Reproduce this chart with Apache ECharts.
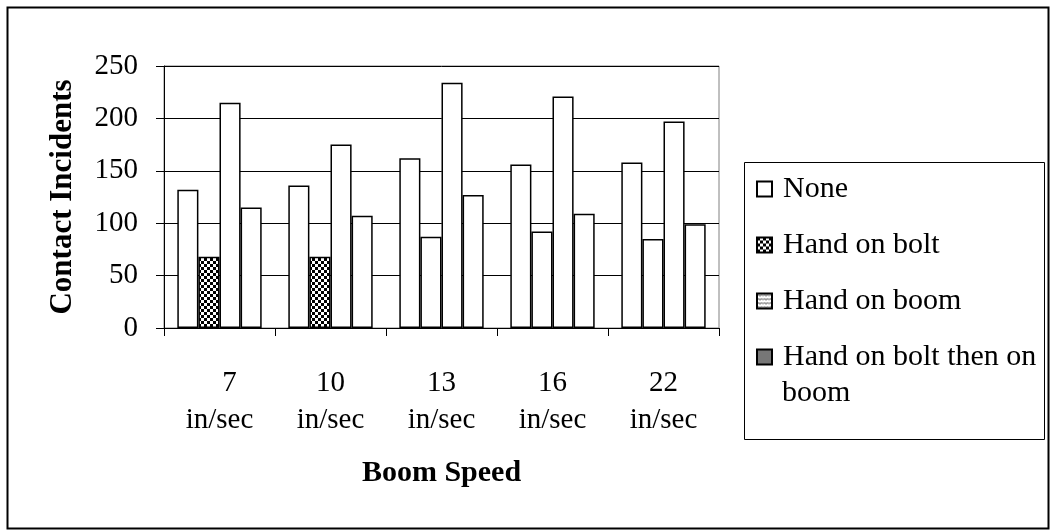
<!DOCTYPE html>
<html>
<head>
<meta charset="utf-8">
<script src="https://cdn.jsdelivr.net/npm/echarts@6/dist/echarts.min.js"></script>
<style>
html,body{margin:0;padding:0;background:#fff;}
#chart{width:1051px;height:531px;}
</style>
</head>
<body>
<div id="chart"></div>
<script>
// ---- data ----
const categories = ['7 in/sec', '10 in/sec', '13 in/sec', '16 in/sec', '22 in/sec'];
const seriesNames = ['None', 'Hand on bolt', 'Hand on boom', 'Hand on bolt then on boom'];
const noneValues = [132, 136, 162, 156, 158];
const boltValues = [68, 68, 87, 92, 85];
const boomValues = [215, 175, 234, 221, 197];
const boltBoomValues = [115, 107, 127, 109, 99];
const yTicks = [0, 50, 100, 150, 200, 250];
// which bars of "Hand on bolt" show the hatched fill
const boltHatched = [true, true, false, false, false];

// ---- patterns ----
function makeCanvas(w, h, draw) {
  const c = document.createElement('canvas');
  c.width = w; c.height = h;
  const ctx = c.getContext('2d');
  draw(ctx, w, h);
  return c;
}
const checker = makeCanvas(6, 6, (ctx) => {
  ctx.fillStyle = '#fff'; ctx.fillRect(0, 0, 6, 6);
  ctx.fillStyle = '#000'; ctx.fillRect(0, 0, 3, 3); ctx.fillRect(3, 3, 3, 3);
});
const wave = makeCanvas(6, 4, (ctx) => {
  ctx.fillStyle = '#fff'; ctx.fillRect(0, 0, 6, 4);
  ctx.strokeStyle = '#222'; ctx.lineWidth = 1;
  ctx.beginPath(); ctx.moveTo(0, 2.5); ctx.lineTo(1.5, 1); ctx.lineTo(3, 2.5); ctx.lineTo(4.5, 1); ctx.lineTo(6, 2.5); ctx.stroke();
});
const dots = makeCanvas(2, 2, (ctx) => {
  ctx.fillStyle = '#999'; ctx.fillRect(0, 0, 2, 2);
  ctx.fillStyle = '#555'; ctx.fillRect(0, 0, 1, 1); ctx.fillRect(1, 1, 1, 1);
});
const pat = (c) => ({ image: c, repeat: 'repeat' });

const FONT = 'Liberation Serif';
const chart = echarts.init(document.getElementById('chart'), null, { renderer: 'canvas' });

function barSeries(name, values, fill, hatchedFlags) {
  return {
    name: name,
    type: 'bar',
    barGap: '0%',
    barCategoryGap: '24%',
    itemStyle: { color: pat(fill), borderColor: '#000', borderWidth: 1.5 },
    emphasis: { disabled: true },
    data: values.map((v, i) => ({
      value: v,
      itemStyle: { color: (hatchedFlags && hatchedFlags[i]) ? pat(fill) : '#fff' }
    }))
  };
}

const option = {
  animation: false,
  backgroundColor: '#fff',
  textStyle: { fontFamily: FONT, color: '#000' },
  grid: { left: 164, top: 66, width: 555, height: 262, show: true, borderColor: '#808080', borderWidth: 1, backgroundColor: '#fff' },
  xAxis: {
    type: 'category',
    data: categories,
    name: 'Boom Speed',
    nameLocation: 'middle',
    nameGap: 130,
    nameTextStyle: { fontFamily: FONT, fontWeight: 'bold', fontSize: 30, color: '#000', verticalAlign: 'top' },
    axisLine: { lineStyle: { color: '#000', width: 1 } },
    axisTick: { show: true, length: 8, lineStyle: { color: '#000' } },
    axisLabel: {
      interval: 0,
      margin: 37,
      fontFamily: FONT, fontSize: 29, color: '#000', lineHeight: 37,
      formatter: (v) => {
        const parts = v.split(' ');
        const key = parts[0].length === 1 ? 's' : 'n';
        return '{' + key + '|' + parts[0] + '}\n{n|' + parts[1] + '}';
      },
      rich: {
        n: { fontFamily: FONT, fontSize: 29, color: '#000', lineHeight: 37 },
        s: { fontFamily: FONT, fontSize: 29, color: '#000', lineHeight: 37, padding: [0, 0, 0, 20] }
      }
    }
  },
  yAxis: {
    type: 'value',
    min: yTicks[0],
    max: yTicks[yTicks.length - 1],
    interval: yTicks[1] - yTicks[0],
    name: 'Contact Incidents',
    nameLocation: 'middle',
    nameRotate: 90,
    nameGap: 86,
    nameTextStyle: { fontFamily: FONT, fontWeight: 'bold', fontSize: 31, color: '#000' },
    axisLine: { show: true, lineStyle: { color: '#000', width: 1 } },
    axisTick: { show: true, length: 8, lineStyle: { color: '#000' } },
    axisLabel: { margin: 26, fontFamily: FONT, fontSize: 29, color: '#000' },
    splitLine: { show: true, lineStyle: { color: '#000', width: 1 } }
  },
  legend: {
    orient: 'vertical',
    left: 751,
    top: 169,
    icon: 'rect',
    itemWidth: 15,
    itemHeight: 15,
    itemGap: 26,
    selectedMode: false,
    data: seriesNames,
    formatter: (n) => n === 'Hand on bolt then on boom' ? 'Hand on bolt then on' : n,
    textStyle: { fontFamily: FONT, fontSize: 30, color: '#000', padding: [0, 0, 0, 6] }
  },
  graphic: [
    { type: 'rect', left: 5, top: 5, shape: { width: 1041, height: 521 }, style: { fill: 'none', stroke: '#000', lineWidth: 2 }, z: 100 },
    { type: 'rect', left: 742, top: 160, shape: { width: 300, height: 277 }, style: { fill: 'none', stroke: '#000', lineWidth: 1 }, z: 100 },
    { type: 'text', left: 782, top: 378, style: { text: 'boom', font: '30px "Liberation Serif"', fill: '#000' }, z: 100 }
  ],
  series: [
    barSeries(seriesNames[0], noneValues, makeCanvas(1, 1, (c) => { c.fillStyle = '#fff'; c.fillRect(0, 0, 1, 1); }), null),
    barSeries(seriesNames[1], boltValues, checker, boltHatched),
    barSeries(seriesNames[2], boomValues, wave, null),
    barSeries(seriesNames[3], boltBoomValues, dots, null)
  ]
};
chart.setOption(option);
</script>
</body>
</html>
